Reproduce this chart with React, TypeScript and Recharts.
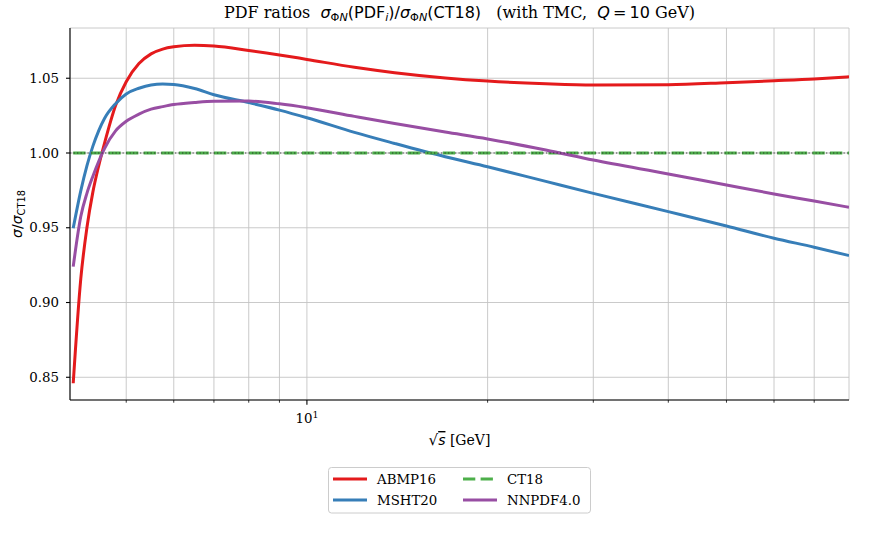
import React from 'react';
import {
  LineChart,
  Line,
  XAxis,
  YAxis,
  CartesianGrid,
  ReferenceLine,
  Legend,
  Customized,
} from 'recharts';

// sqrt(s) in GeV
const sqrtS = [4.08, 4.2, 4.3, 4.4, 4.5, 4.6, 4.8, 5, 5.25, 5.5, 5.75, 6, 6.5, 7, 8, 9, 10, 12, 14, 17, 20, 25, 30, 40, 50, 60, 70, 80];
const abmp16 = [0.846, 0.9158, 0.95, 0.974, 0.9916, 1.0065, 1.0318, 1.0477, 1.0598, 1.0663, 1.0695, 1.071, 1.072, 1.0715, 1.0686, 1.0656, 1.0626, 1.0573, 1.0537, 1.0502, 1.0481, 1.0463, 1.0455, 1.0457, 1.047, 1.0483, 1.0495, 1.051];
const msht20 = [0.9497, 0.9747, 0.9914, 1.0046, 1.015, 1.0231, 1.033, 1.0395, 1.0433, 1.0455, 1.0461, 1.0458, 1.0431, 1.039, 1.0337, 1.0287, 1.0236, 1.0138, 1.0064, 0.9975, 0.9908, 0.981, 0.973, 0.9608, 0.9512, 0.943, 0.937, 0.9314];
const ct18 = [1.0, 1.0, 1.0, 1.0, 1.0, 1.0, 1.0, 1.0, 1.0, 1.0, 1.0, 1.0, 1.0, 1.0, 1.0, 1.0, 1.0, 1.0, 1.0, 1.0, 1.0, 1.0, 1.0, 1.0, 1.0, 1.0, 1.0, 1.0];
const nnpdf40 = [0.924, 0.9575, 0.973, 0.9845, 0.9945, 1.003, 1.0148, 1.0212, 1.026, 1.0293, 1.031, 1.0324, 1.0338, 1.0346, 1.0347, 1.0329, 1.0303, 1.0245, 1.0197, 1.014, 1.0094, 1.002, 0.9953, 0.986, 0.9786, 0.9726, 0.9679, 0.9637];

const xTicks = [5, 6, 7, 8, 9, 10, 20, 30, 40, 50, 60, 70];
const yTicks = [0.85, 0.9, 0.95, 1.0, 1.05];
const xDomain = [4.03, 80];
const yDomain = [0.8348, 1.0836];

const series = [
  { key: 'abmp', name: 'ABMP16', color: '#e41a1c', dash: undefined as string | undefined },
  { key: 'msht', name: 'MSHT20', color: '#377eb8', dash: undefined as string | undefined },
  { key: 'ct18', name: 'CT18', color: '#4daf4a', dash: '12.3 5.3' },
  { key: 'nnpdf', name: 'NNPDF4.0', color: '#984ea3', dash: undefined as string | undefined },
];

const data = sqrtS.map((x, i) => ({
  x,
  abmp: abmp16[i],
  msht: msht20[i],
  ct18: ct18[i],
  nnpdf: nnpdf40[i],
}));

const SERIF = "'DejaVu Serif', serif";
const SANS = "'DejaVu Sans', sans-serif";

const XTick = (props: any) => {
  const { x, y, payload } = props;
  const major = payload.value === 10;
  return (
    <g>
      <line x1={x} x2={x} y1={y} y2={y + (major ? 4.7 : 2.7)} stroke="#000" strokeWidth={major ? 1.1 : 0.8} />
      {major && (
        <text x={x} y={y + 23} textAnchor="middle" fontFamily={SERIF} fontSize={13.33} fill="#000">
          10
          <tspan dy={-5.5} fontSize={9.5}>1</tspan>
        </text>
      )}
    </g>
  );
};

const Annotations = () => (
  <g>
    <text x={459.5} y={18} textAnchor="middle" fontFamily={SERIF} fontSize={16} fill="#000">
      {'PDF ratios\u00a0\u00a0'}
      <tspan fontFamily={SANS} fontStyle="italic">σ</tspan>
      <tspan fontFamily={SANS} fontSize={11.2} dy={3}>Φ</tspan>
      <tspan fontFamily={SANS} fontSize={11.2} fontStyle="italic">N</tspan>
      <tspan fontFamily={SANS} dy={-3}>(PDF</tspan>
      <tspan fontFamily={SANS} fontSize={11.2} fontStyle="italic" dy={3}>i</tspan>
      <tspan fontFamily={SANS} dy={-3}>)/</tspan>
      <tspan fontFamily={SANS} fontStyle="italic">σ</tspan>
      <tspan fontFamily={SANS} fontSize={11.2} dy={3}>Φ</tspan>
      <tspan fontFamily={SANS} fontSize={11.2} fontStyle="italic">N</tspan>
      <tspan fontFamily={SANS} dy={-3}>(CT18)</tspan>
      <tspan>{'\u00a0\u00a0\u00a0(with TMC,\u00a0\u00a0'}</tspan>
      <tspan fontFamily={SANS} fontStyle="italic">Q</tspan>
      <tspan fontFamily={SANS}>{'\u2009=\u200910'}</tspan>
      <tspan>{'\u00a0GeV)'}</tspan>
    </text>
    <g transform="rotate(-90, 21.5, 214)">
      <text x={21.5} y={214} textAnchor="middle" fontFamily={SANS} fontSize={14} fill="#000">
        <tspan fontStyle="italic">σ</tspan>
        <tspan>/</tspan>
        <tspan fontStyle="italic">σ</tspan>
        <tspan fontSize={9.8} dy={3}>CT18</tspan>
      </text>
    </g>
    <text x={459.5} y={445} textAnchor="middle" fontFamily={SERIF} fontSize={14} fill="#000">
      <tspan fontFamily={SANS} fontSize={15}>√</tspan>
      <tspan fontFamily={SANS} fontStyle="italic" textDecoration="overline">s</tspan>
      <tspan>{'\u00a0[GeV]'}</tspan>
    </text>
  </g>
);

const LegendBox = () => {
  const cols = [
    [series[0], series[1]],
    [series[2], series[3]],
  ];
  const colX = [5, 135];
  const rowY = [12, 33];
  return (
    <svg width={263} height={47} style={{ display: 'block', overflow: 'visible' }}>
      <rect x={0.5} y={0.5} width={262} height={45.5} rx={3} ry={3} fill="#fff" fillOpacity={0.8} stroke="#cccccc" strokeWidth={1} />
      {cols.map((col, ci) =>
        col.map((s, ri) => (
          <g key={s.key}>
            <line
              x1={colX[ci]}
              x2={colX[ci] + 34}
              y1={rowY[ri]}
              y2={rowY[ri]}
              stroke={s.color}
              strokeWidth={3}
              strokeDasharray={s.dash}
            />
            <text x={colX[ci] + 44} y={rowY[ri] + 4.8} fontFamily={SERIF} fontSize={13.33} fill="#000">
              {s.name}
            </text>
          </g>
        ))
      )}
    </svg>
  );
};

export default function App() {
  return (
    <div style={{ position: 'absolute', left: 0, top: 0, width: 896, height: 549, background: '#fff' }}>
      <LineChart
        width={896}
        height={549}
        data={data}
        margin={{ top: 28, right: 47, bottom: 0, left: 0 }}
        style={{ fontFamily: SERIF }}
      >
        <CartesianGrid stroke="#c4c4c4" strokeWidth={0.9} />
        <XAxis
          dataKey="x"
          type="number"
          scale="log"
          domain={xDomain}
          allowDataOverflow
          ticks={xTicks}
          interval={0}
          height={149}
          tickSize={0}
          tickMargin={0}
          tickLine={false}
          tick={<XTick />}
          axisLine={{ stroke: '#000', strokeWidth: 1.1 }}
        />
        <XAxis
          xAxisId="top"
          dataKey="x"
          type="number"
          scale="log"
          domain={xDomain}
          allowDataOverflow
          orientation="top"
          height={0}
          tick={false}
          tickLine={false}
          axisLine={{ stroke: '#000', strokeWidth: 1.1 }}
        />
        <YAxis
          type="number"
          domain={yDomain}
          allowDataOverflow
          ticks={yTicks}
          interval={0}
          width={70}
          tickSize={4}
          tickMargin={7}
          tickLine={{ stroke: '#000', strokeWidth: 1.1 }}
          axisLine={{ stroke: '#000', strokeWidth: 1.1 }}
          tick={{ fontFamily: SERIF, fontSize: 13.33, fill: '#000' }}
          tickFormatter={(v: number) => v.toFixed(2)}
        />
        <YAxis
          yAxisId="right"
          orientation="right"
          type="number"
          domain={yDomain}
          allowDataOverflow
          width={0}
          tick={false}
          tickLine={false}
          axisLine={{ stroke: '#000', strokeWidth: 1.1 }}
        />
        {series.map((s) => (
          <Line
            key={s.key}
            dataKey={s.key}
            name={s.name}
            type="monotone"
            stroke={s.color}
            strokeWidth={3}
            strokeDasharray={s.dash}
            dot={false}
            activeDot={false}
            isAnimationActive={false}
          />
        ))}
        <ReferenceLine y={1} stroke="#222" strokeWidth={1.2} strokeDasharray="1.3 2.2" strokeOpacity={0.8} />
        <Legend
          layout="horizontal"
          verticalAlign="middle"
          align="center"
          content={<LegendBox />}
          wrapperStyle={{ position: 'absolute', left: 328, top: 467, width: 263, height: 47 }}
        />
        <Customized component={<Annotations />} />
      </LineChart>
    </div>
  );
}
